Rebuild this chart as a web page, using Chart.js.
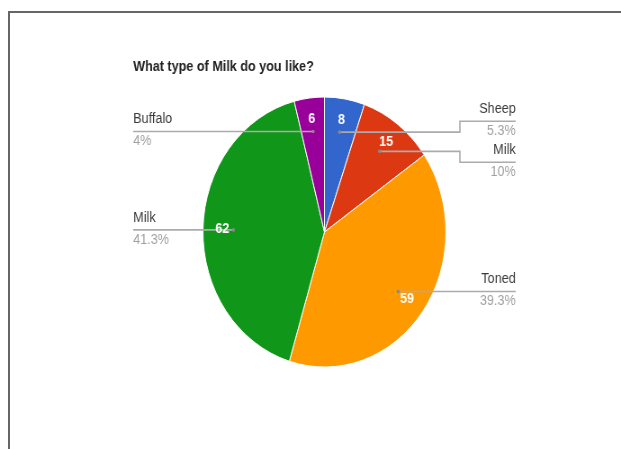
<!DOCTYPE html>
<html>
<head>
<meta charset="utf-8">
<script src="https://cdn.jsdelivr.net/npm/chart.js@4.4.0/dist/chart.umd.min.js"></script>
<style>
  html, body { margin: 0; padding: 0; background: #fff; overflow: hidden; }
  body { width: 621px; height: 449px; position: relative; }
  #frame {
    position: absolute; left: 8px; top: 11px; width: 640px; height: 460px;
    border-left: 2px solid #666; border-top: 2px solid #666;
  }
  /* the chart is drawn a bit wider, then squeezed back horizontally */
  #wrap {
    position: absolute; left: 0; top: 0; width: 690px; height: 449px;
    transform: scaleX(0.9); transform-origin: 0 0;
  }
</style>
</head>
<body>
<div id="frame"></div>
<div id="wrap"><canvas id="milkChart" width="690" height="449"></canvas></div>
<script>
const chartTitle = 'What type of Milk do you like?';
const labels = ['Sheep', 'Milk', 'Toned', 'Milk', 'Buffalo'];
const counts = [8, 15, 59, 62, 6];
const colors = ['#3366cc', '#dc3912', '#ff9900', '#109618', '#990099'];

const FONT = '"Liberation Sans", Arial, sans-serif';

function pctText(v, total) {
  let s = (v / total * 100).toFixed(1);
  if (s.endsWith('.0')) s = s.slice(0, -2);
  return s + '%';
}

// title, leader lines with name / percent, and the counts inside slices
const pieLabels = {
  id: 'pieLabels',
  afterDatasetsDraw(chart) {
    const ctx = chart.ctx;
    const meta = chart.getDatasetMeta(0);
    const total = counts.reduce((a, b) => a + b, 0);
    const first = meta.data[0];
    const cx = first.x, cy = first.y, R = first.outerRadius;
    const leftX = cx - R * 1.574;
    const rightX = cx + R * 1.574;
    const gap = 41;

    const items = meta.data.map((arc, i) => {
      const mid = (arc.startAngle + arc.endAngle) / 2;
      const dotX = cx + Math.cos(mid) * R * 0.75;
      const dotY = cy + Math.sin(mid) * R * 0.75;
      return { i, mid, dotX, dotY, ly: dotY, right: Math.cos(mid) >= 0 };
    });

    // keep labels on the same side from overlapping
    [true, false].forEach(side => {
      const list = items.filter(it => it.right === side).sort((a, b) => a.ly - b.ly);
      for (let pass = 0; pass < 20; pass++) {
        for (let k = 1; k < list.length; k++) {
          const d = list[k].ly - list[k - 1].ly;
          if (d < gap) {
            const push = (gap - d) / 2;
            list[k - 1].ly -= push;
            list[k].ly += push;
          }
        }
      }
    });

    ctx.save();
    // title
    ctx.fillStyle = '#222';
    ctx.font = 'bold 14px ' + FONT;
    ctx.textAlign = 'left';
    ctx.textBaseline = 'middle';
    ctx.fillText(chartTitle, leftX, 67);

    items.forEach(it => {
      const endX = it.right ? rightX : leftX;
      const elbowX = it.right ? rightX - 62 : leftX + 62;
      ctx.strokeStyle = '#ababab';
      ctx.lineWidth = 1.6;
      ctx.beginPath();
      ctx.moveTo(it.dotX, it.dotY);
      if (Math.abs(it.ly - it.dotY) > 0.5) {
        ctx.lineTo(elbowX, it.dotY);
        ctx.lineTo(elbowX, it.ly);
      }
      ctx.lineTo(endX, it.ly);
      ctx.stroke();
      ctx.fillStyle = '#8a8a8a';
      ctx.beginPath();
      ctx.arc(it.dotX, it.dotY, 1.8, 0, Math.PI * 2);
      ctx.fill();

      ctx.textAlign = it.right ? 'right' : 'left';
      ctx.font = '14px ' + FONT;
      ctx.fillStyle = '#3a3a3a';
      ctx.fillText(labels[it.i], endX, it.ly - 12);
      ctx.fillStyle = '#a0a0a0';
      ctx.fillText(pctText(counts[it.i], total), endX, it.ly + 10);
    });

    // counts inside slices
    ctx.textAlign = 'center';
    ctx.font = 'bold 14px ' + FONT;
    ctx.fillStyle = '#ffffff';
    items.forEach(it => {
      const x = cx + Math.cos(it.mid) * R * 0.84;
      const y = cy + Math.sin(it.mid) * R * 0.84;
      ctx.fillText(String(counts[it.i]), x, y);
    });
    ctx.restore();
  }
};

new Chart(document.getElementById('milkChart'), {
  type: 'pie',
  data: {
    labels: labels,
    datasets: [{
      data: counts,
      backgroundColor: colors,
      borderColor: '#ffffff',
      borderWidth: 1
    }]
  },
  options: {
    responsive: false,
    animation: false,
    radius: 135,
    layout: { padding: { left: 225.5, right: 194.5, top: 97, bottom: 82 } },
    plugins: {
      legend: { display: false },
      tooltip: { enabled: false }
    }
  },
  plugins: [pieLabels]
});
</script>
</body>
</html>
